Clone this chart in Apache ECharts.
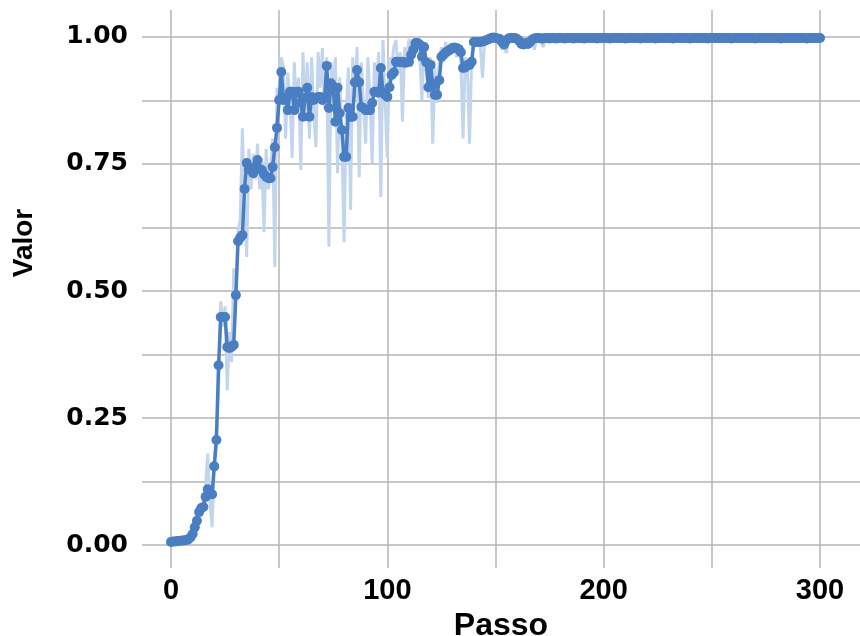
<!DOCTYPE html>
<html>
<head>
<meta charset="utf-8">
<script src="https://cdn.jsdelivr.net/npm/echarts@6/dist/echarts.min.js"></script>
<style>
  html, body { margin: 0; padding: 0; background: #ffffff; }
  #chart { width: 860px; height: 636px; }
</style>
</head>
<body>
<div id="chart"></div>
<script>
// Raw per-step value (noisy trace), step 0..300
const valorBruto = [
  0.005, 0.008, 0.006, 0.010, 0.007, 0.012, 0.009, 0.011, 0.014, 0.020,
  0.030, 0.045, 0.040, 0.075, 0.060, 0.090, 0.120, 0.180, 0.085, 0.035,
  0.160, 0.230, 0.300, 0.480, 0.430, 0.470, 0.305, 0.420, 0.360, 0.545,
  0.500, 0.620, 0.640, 0.820, 0.670, 0.567, 0.780, 0.700, 0.770, 0.720,
  0.790, 0.700, 0.760, 0.616, 0.780, 0.700, 0.740, 0.800, 0.547, 0.900,
  0.880, 0.960, 0.940, 0.800, 0.930, 0.880, 0.762, 0.950, 0.860, 0.920,
  0.738, 0.970, 0.840, 0.950, 0.800, 0.960, 0.850, 0.783, 0.970, 0.900,
  0.978, 0.860, 0.960, 0.587, 0.950, 0.900, 0.960, 0.732, 0.920, 0.800,
  0.596, 0.850, 0.940, 0.660, 0.960, 0.880, 0.980, 0.724, 0.950, 0.860,
  0.790, 0.960, 0.880, 0.752, 0.950, 0.900, 0.970, 0.685, 0.994, 0.870,
  0.762, 0.960, 0.940, 0.980, 0.994, 0.930, 0.970, 0.833, 0.980, 0.950,
  0.996, 0.940, 0.990, 0.970, 0.995, 0.960, 0.876, 0.990, 0.930, 0.880,
  0.960, 0.790, 0.940, 0.870, 0.950, 0.980, 0.950, 0.990, 0.960, 0.985,
  0.970, 0.990, 0.960, 0.985, 0.950, 0.800, 0.960, 0.940, 0.790, 0.960,
  0.995, 0.985, 0.997, 0.980, 0.920, 0.995, 0.990, 0.998, 0.995, 0.999,
  0.997, 0.995, 0.990, 0.975, 0.985, 0.968, 0.995, 0.998, 0.996, 0.998,
  0.995, 0.990, 0.978, 0.985, 0.980, 0.988, 0.985, 0.992, 0.975, 0.995,
  0.997, 0.996, 0.980, 0.997, 0.998, 0.997, 0.999, 0.998, 0.996, 0.998,
  0.999, 0.997, 0.998, 0.998, 0.996, 0.999, 0.998, 0.997, 0.998, 0.999,
  0.998, 0.997, 0.998, 0.999, 0.998, 0.997, 0.998, 0.998, 0.999, 0.997,
  0.998, 0.999, 0.997, 0.998, 0.998, 0.999, 0.998, 0.997, 0.998, 0.998,
  0.999, 0.998, 0.997, 0.998, 0.999, 0.998, 0.998, 0.997, 0.999, 0.998,
  0.998, 0.997, 0.998, 0.999, 0.998, 0.998, 0.997, 0.998, 0.999, 0.998,
  0.997, 0.998, 0.998, 0.999, 0.998, 0.997, 0.998, 0.998, 0.999, 0.998,
  0.998, 0.997, 0.999, 0.998, 0.998, 0.997, 0.998, 0.999, 0.998, 0.998,
  0.997, 0.998, 0.999, 0.998, 0.998, 0.997, 0.998, 0.998, 0.999, 0.998,
  0.998, 0.997, 0.998, 0.999, 0.998, 0.998, 0.997, 0.998, 0.998, 0.999,
  0.998, 0.997, 0.998, 0.998, 0.999, 0.998, 0.997, 0.998, 0.998, 0.999,
  0.998, 0.998, 0.997, 0.998, 0.999, 0.998, 0.998, 0.997, 0.998, 0.999,
  0.998, 0.997, 0.998, 0.998, 0.999, 0.998, 0.998, 0.997, 0.998, 0.998,
  0.998
];

// Running value per step (marked line), step 0..300
const valorMedio = [
  0.006, 0.007, 0.007, 0.008, 0.008, 0.009, 0.009, 0.010, 0.011, 0.015,
  0.022, 0.035, 0.048, 0.065, 0.073, 0.075, 0.095, 0.110, 0.100, 0.100,
  0.155, 0.207, 0.354, 0.449, 0.449, 0.449, 0.390, 0.388, 0.390, 0.394,
  0.492, 0.598, 0.605, 0.610, 0.701, 0.752, 0.740, 0.738, 0.732, 0.745,
  0.758, 0.740, 0.738, 0.730, 0.725, 0.722, 0.722, 0.744, 0.783, 0.821,
  0.876, 0.931, 0.876, 0.880, 0.856, 0.892, 0.892, 0.856, 0.892, 0.892,
  0.870, 0.843, 0.880, 0.900, 0.843, 0.882, 0.876, 0.880, 0.882, 0.882,
  0.876, 0.880, 0.943, 0.860, 0.909, 0.900, 0.833, 0.900, 0.850, 0.817,
  0.764, 0.764, 0.860, 0.843, 0.843, 0.911, 0.935, 0.911, 0.862, 0.860,
  0.856, 0.856, 0.856, 0.870, 0.892, 0.892, 0.890, 0.939, 0.890, 0.886,
  0.882, 0.901, 0.925, 0.930, 0.951, 0.951, 0.950, 0.951, 0.949, 0.950,
  0.951, 0.965, 0.975, 0.988, 0.988, 0.985, 0.961, 0.980, 0.950, 0.901,
  0.945, 0.906, 0.886, 0.886, 0.915, 0.961, 0.965, 0.970, 0.972, 0.975,
  0.978, 0.978, 0.978, 0.976, 0.970, 0.939, 0.940, 0.945, 0.945, 0.951,
  0.990, 0.990, 0.990, 0.990, 0.991, 0.992, 0.994, 0.996, 0.998, 0.999,
  0.998, 0.997, 0.996, 0.990, 0.985, 0.993, 0.997, 0.998, 0.998, 0.998,
  0.996, 0.992, 0.986, 0.985, 0.988, 0.986, 0.990, 0.995, 0.997, 0.998,
  0.998, 0.997, 0.997, 0.998, 0.998, 0.997, 0.998, 0.998, 0.997, 0.998,
  0.998, 0.998, 0.997, 0.998, 0.998, 0.998, 0.997, 0.998, 0.998, 0.998,
  0.998, 0.997, 0.998, 0.998, 0.998, 0.998, 0.998, 0.997, 0.998, 0.998,
  0.998, 0.998, 0.998, 0.997, 0.998, 0.998, 0.998, 0.998, 0.998, 0.998,
  0.997, 0.998, 0.998, 0.998, 0.998, 0.998, 0.998, 0.997, 0.998, 0.998,
  0.998, 0.998, 0.998, 0.998, 0.997, 0.998, 0.998, 0.998, 0.998, 0.998,
  0.998, 0.998, 0.997, 0.998, 0.998, 0.998, 0.998, 0.998, 0.998, 0.998,
  0.997, 0.998, 0.998, 0.998, 0.998, 0.998, 0.998, 0.998, 0.997, 0.998,
  0.998, 0.998, 0.998, 0.998, 0.998, 0.998, 0.998, 0.998, 0.998, 0.997,
  0.998, 0.998, 0.998, 0.998, 0.998, 0.998, 0.998, 0.998, 0.998, 0.998,
  0.997, 0.998, 0.998, 0.998, 0.998, 0.998, 0.998, 0.998, 0.998, 0.998,
  0.998, 0.998, 0.997, 0.998, 0.998, 0.998, 0.998, 0.998, 0.998, 0.998,
  0.998, 0.998, 0.998, 0.998, 0.997, 0.998, 0.998, 0.998, 0.998, 0.998,
  0.998
];

// Axis tick positions and labels
const passoGrade = [0, 50, 100, 150, 200, 250, 300];
const passoRotulos = [0, 100, 200, 300];
const valorGrade = [0, 0.125, 0.25, 0.375, 0.5, 0.625, 0.75, 0.875, 1];
const valorRotulos = [0, 0.25, 0.5, 0.75, 1];

const chart = echarts.init(document.getElementById('chart'), null, { renderer: 'canvas' });

const gridLine = { show: true, lineStyle: { color: '#b4b4b4', width: 1.5 } };

chart.setOption({
  backgroundColor: '#ffffff',
  animation: false,
  grid: { left: 142, right: 0, top: 10, bottom: 68, containLabel: false, outerBoundsMode: 'none' },
  xAxis: {
    type: 'value',
    min: -13.4,
    max: 318.5,
    name: 'Passo',
    nameLocation: 'middle',
    nameGap: 36,
    nameTextStyle: { fontFamily: 'Liberation Sans', fontWeight: 'bold', fontSize: 32, color: '#000' },
    axisLine: { show: false },
    axisTick: { show: false, customValues: passoGrade },
    splitLine: gridLine,
    axisLabel: {
      customValues: passoRotulos,
      margin: 8,
      fontFamily: 'Liberation Sans',
      fontWeight: 'bold',
      fontSize: 29,
      color: '#000'
    }
  },
  yAxis: {
    type: 'value',
    min: -0.045,
    max: 1.053,
    name: 'Valor',
    nameLocation: 'middle',
    nameRotate: 90,
    nameGap: 104,
    nameTextStyle: {
      fontFamily: 'Liberation Sans', fontWeight: 'bold', fontSize: 28, color: '#000',
      padding: [0, 0, 0, 92]
    },
    axisLine: { show: false },
    axisTick: { show: false, customValues: valorGrade },
    splitLine: gridLine,
    axisLabel: {
      customValues: valorRotulos,
      margin: 14,
      fontFamily: 'DejaVu Sans',
      fontWeight: 'bold',
      fontSize: 25,
      color: '#000',
      formatter: v => v.toFixed(2)
    }
  },
  series: [
    {
      type: 'line',
      data: valorBruto.map((v, i) => [i, v]),
      showSymbol: false,
      lineStyle: { color: '#c3d5ec', width: 3 },
      z: 2
    },
    {
      type: 'line',
      data: valorMedio.map((v, i) => [i, v]),
      symbol: 'circle',
      symbolSize: 10,
      showAllSymbol: true,
      itemStyle: { color: '#4a7ec2' },
      lineStyle: { color: '#4a7ec2', width: 3.5 },
      z: 3
    }
  ]
});
</script>
</body>
</html>
